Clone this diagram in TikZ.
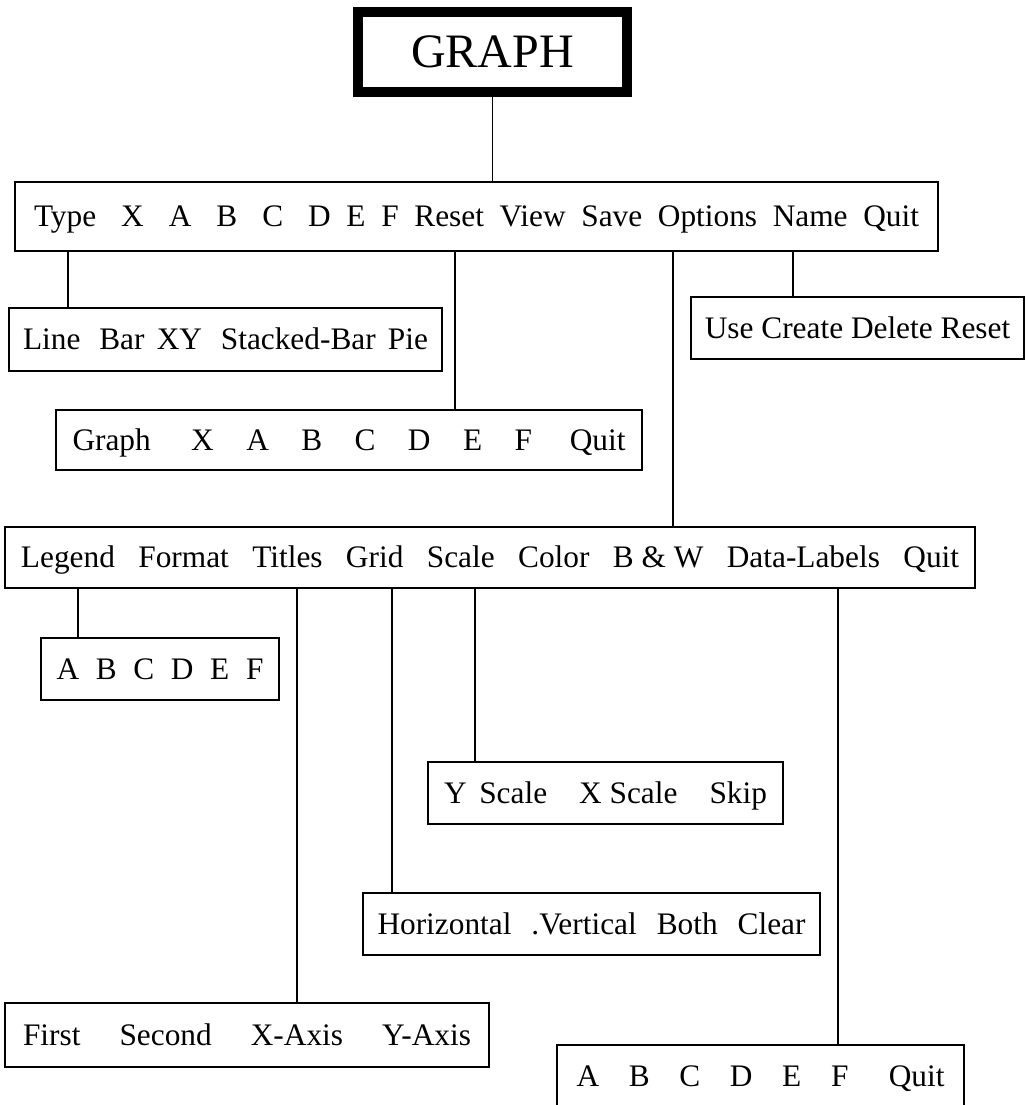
\documentclass[tikz,border=0pt]{standalone}
\usepackage{fontspec}
\setmainfont{Liberation Serif}
\newcommand{\spreadrow}[2]{\makebox[#1][s]{#2}}

\begin{document}
\begin{tikzpicture}[x=0.75pt,y=0.75pt,yscale=-1,xscale=1,
		menubox/.style={draw=black, line width=1pt, inner sep=0pt, text height=15.4pt, text depth=0pt, font=\fontsize{23.5}{28}\selectfont},
		link/.style={draw=black, line width=0.8pt}]
		\useasboundingbox (0,0) rectangle (1030,1105);
		
		%Shape: Rectangle [title]
		\node [draw=black, line width=7.5pt, inner sep=0pt, minimum width=201.75pt, minimum height=60pt, text height=23.6pt, text depth=0pt, font=\fontsize{36}{40}\selectfont] (graph) at (492.5,52) {GRAPH};
		%Shape: Rectangle [main menu]
		\node [menubox, minimum width=692.25pt, minimum height=51.75pt] (menu) at (476.5,216.5) {\spreadrow{663.75pt}{Type\hspace{7pt} X\hspace{7pt} A\hspace{7pt} B\hspace{7pt} C\hspace{7pt} D E F Reset View Save Options Name Quit}};
		
		%Shape: Rectangle [type]
		\node [menubox, minimum width=324.75pt, minimum height=47.25pt] (types) at (225.5,339.5) {\spreadrow{303.75pt}{Line\hspace{5pt} Bar XY\hspace{5pt} Stacked-Bar Pie}};
		%Shape: Rectangle [name]
		\node [menubox, minimum width=249.75pt, minimum height=46.5pt] (names) at (857.5,328) {Use Create Delete Reset};
		%Shape: Rectangle [reset]
		\node [menubox, minimum width=439.5pt, minimum height=45pt] (resets) at (349,440) {\spreadrow{414.75pt}{Graph\hspace{6pt} X A B C D E F\hspace{4pt} Quit}};
		%Shape: Rectangle [options]
		\node [menubox, minimum width=727.5pt, minimum height=45.75pt] (options) at (490,557.5) {\spreadrow{703.5pt}{Legend Format Titles Grid Scale Color \mbox{B \& W} Data-Labels Quit}};
		
		%Shape: Rectangle [legend]
		\node [menubox, minimum width=178.5pt, minimum height=46.5pt] (legends) at (160,669) {\spreadrow{155.25pt}{A B C D E F}};
		%Shape: Rectangle [scale]
		\node [menubox, minimum width=266.25pt, minimum height=46.5pt] (scales) at (605.5,793) {Y\hspace{9.5pt}Scale\hspace{24pt}X Scale\hspace{24pt}Skip};
		%Shape: Rectangle [grid]
		\node [menubox, minimum width=342.75pt, minimum height=46.5pt] (grids) at (591.5,924) {\spreadrow{321pt}{Horizontal .Vertical Both Clear}};
		%Shape: Rectangle [titles]
		\node [menubox, minimum width=363pt, minimum height=48pt] (titles) at (247,1035) {\spreadrow{336pt}{First Second X-Axis Y-Axis}};
		%Shape: Rectangle [data labels]
		\node [menubox, minimum width=305.25pt, minimum height=46.5pt] (labels) at (760.5,1076) {\spreadrow{276pt}{A B C D E F\hspace{8pt} Quit}};
		
		%Straight Lines
		\draw [link] (graph) -- (menu.north -| graph);
		\draw [link] (menu.south -| 68,0) -- (types.north -| 68,0);
		\draw [link] (menu.south -| 455,0) -- (resets.north -| 455,0);
		\draw [link] (menu.south -| 673,0) -- (options.north -| 673,0);
		\draw [link] (menu.south -| 793,0) -- (names.north -| 793,0);
		%Straight Lines
		\draw [link] (options.south -| 78,0) -- (legends.north -| 78,0);
		\draw [link] (options.south -| 297,0) -- (titles.north -| 297,0);
		\draw [link] (options.south -| 392,0) -- (grids.north -| 392,0);
		\draw [link] (options.south -| 475,0) -- (scales.north -| 475,0);
		\draw [link] (options.south -| 838,0) -- (labels.north -| 838,0);
		
\end{tikzpicture}
\end{document}
